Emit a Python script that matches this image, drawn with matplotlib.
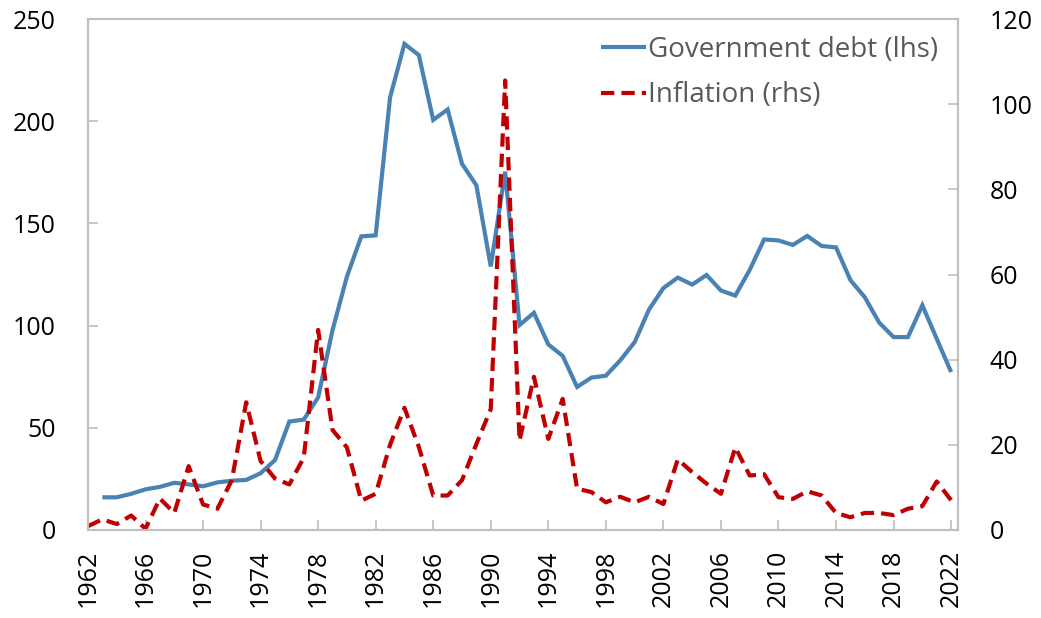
import matplotlib.pyplot as plt
import numpy as np

plt.rcParams['font.family'] = ['Open Sans', 'DejaVu Sans']

years = np.arange(1962, 2023)

# government debt, % (lhs), starts 1963
debt_years = np.arange(1963, 2023)
debt = [16, 16, 17.7, 19.9, 21.1, 23.1, 22.3, 21.4, 23.3, 24.1,
        24.5, 27.8, 34.2, 53.1, 54, 64.9, 97.8, 124, 143.7, 144.2,
        211.7, 237.9, 232.4, 200.7, 205.8, 179.2, 168.7, 129, 175.4, 100.3,
        106.3, 90.8, 85.2, 70, 74.6, 75.5, 83, 91.9, 107.9, 118.4,
        123.5, 120.1, 124.8, 117.2, 114.7, 127.3, 142.2, 141.7, 139.5, 143.9,
        139, 138.3, 122.3, 113.9, 101.5, 94.4, 94.4, 110, 93.6, 77.3]

# inflation, % (rhs)
inflation = [0.9, 2.5, 1.4, 3.4, 0.3, 7.4, 4, 15, 6, 5,
             11.7, 30, 16.2, 12.1, 10.7, 17, 47, 23.5, 19.4, 6.9,
             8.5, 20, 28.7, 19.5, 8.1, 8.1, 11.7, 20.2, 28.4, 105.6,
             21, 36, 21.4, 30.8, 9.7, 8.9, 6.5, 7.8, 6.5, 7.8,
             6.1, 16.6, 13.6, 10.9, 8.5, 19.4, 12.8, 13.1, 7.7, 7.3,
             9.1, 8.1, 4, 3, 4, 4, 3.5, 5, 5.6, 11.4, 7]

blue = '#4A82B4'
red = '#C00000'
grey = '#BFBFBF'

fig = plt.figure(figsize=(10.41, 6.18), dpi=100)
ax = fig.add_axes([0.0845, 0.1424, 0.8355, 0.8266])
ax2 = ax.twinx()

l1, = ax.plot(debt_years, debt, color=blue, lw=3, solid_capstyle='butt',
              solid_joinstyle='miter', label='Government debt (lhs)')
l2, = ax2.plot(years, inflation, color=red, lw=3, dashes=(3.2, 1.7),
               label='Inflation (rhs)')

ax.set_xlim(1962, 2022.46)
ax.set_ylim(0, 250)
ax2.set_ylim(0, 120)
ax.set_xticks(np.arange(1962, 2023, 4))
ax.set_yticks(np.arange(0, 251, 50))
ax2.set_yticks(np.arange(0, 121, 20))

for a in (ax, ax2):
    for s in a.spines.values():
        s.set_color(grey)
        s.set_linewidth(1.5)
    a.tick_params(direction='in', length=7, width=1.2, color=grey,
                  labelsize=18, labelcolor='black')
ax.tick_params(axis='x', labelrotation=90, pad=14)
ax.tick_params(axis='y', pad=23)
ax2.tick_params(axis='y', pad=23)

leg = ax2.legend(handles=[l1, l2], loc='upper right', frameon=False,
                 fontsize=20, handlelength=1.6, handletextpad=0.08,
                 labelspacing=0.62, borderaxespad=0.3,
                 bbox_to_anchor=(1.0, 1.005))
for t in leg.get_texts():
    t.set_color('#595959')

fig.savefig('out.png', dpi=100)
